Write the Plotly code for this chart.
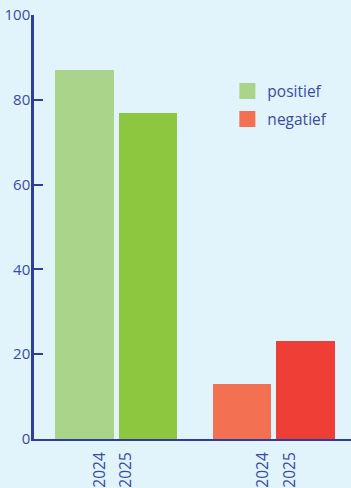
import plotly.graph_objects as go

groups = ["positief", "negatief"]
years = ["2024", "2025"]
positief = [87, 77]
negatief = [13, 23]
pos_colors = ["#AAD48A", "#8DC63F"]
neg_colors = ["#F37052", "#EF3E36"]

BG = "#E1F3FB"
AX = "#2F3C98"
TXT = "#3A4BA2"
FONT = "Open Sans"

group_step = 2.5
# horizontal shift of each year label relative to its bar (in bar units)
label_shift = [[0.25, -0.35], [0.33, -0.25]]

def xpos(gi):
    return [gi * group_step + yi for yi in range(len(years))]

fig = go.Figure()
series = [positief, negatief]
colors = [pos_colors, neg_colors]
for gi, g in enumerate(groups):
    fig.add_trace(go.Bar(
        x=xpos(gi), y=series[gi], name=g, width=0.92,
        marker=dict(color=colors[gi], line=dict(width=0)),
        showlegend=False,
    ))
    fig.add_trace(go.Scatter(
        x=[None], y=[None], mode="markers", name=g, legendgroup=g,
        marker=dict(symbol="square", size=20, color=colors[gi][0]),
    ))

tickvals = []
ticktext = []
for gi in range(len(groups)):
    for yi, yr in enumerate(years):
        tickvals.append(gi * group_step + yi + label_shift[gi][yi])
        ticktext.append(yr)

fig.update_layout(
    width=351, height=488,
    margin=dict(l=34, r=0, t=15, b=49),
    paper_bgcolor=BG, plot_bgcolor=BG,
    font=dict(family=FONT, size=14, color=TXT),
    bargap=0,
    legend=dict(x=0.61, y=0.86, xanchor="left", yanchor="top",
                bgcolor="rgba(0,0,0,0)", font=dict(size=15.5, color=TXT),
                itemsizing="trace", tracegroupgap=5, traceorder="grouped"),
    xaxis=dict(range=[-0.80, 4.22], showgrid=False, zeroline=False,
               showline=True, linecolor=AX, linewidth=2,
               tickmode="array", tickvals=tickvals, ticktext=ticktext,
               tickangle=-90, ticks="", ticklabelstandoff=5,
               tickfont=dict(size=15.5, color=TXT)),
    yaxis=dict(range=[0, 100], showgrid=False, zeroline=False,
               showline=True, linecolor=AX, linewidth=2.5,
               tickvals=[0, 20, 40, 60, 80, 100],
               ticks="inside", ticklen=9, tickwidth=2, tickcolor=AX,
               ticklabelstandoff=-2,
               tickfont=dict(size=15, color=TXT)),
)

fig.write_html(
    "out.html",
    config={"displayModeBar": False},
    post_script="document.body.style.margin='0';document.body.style.background='%s';" % BG,
)
